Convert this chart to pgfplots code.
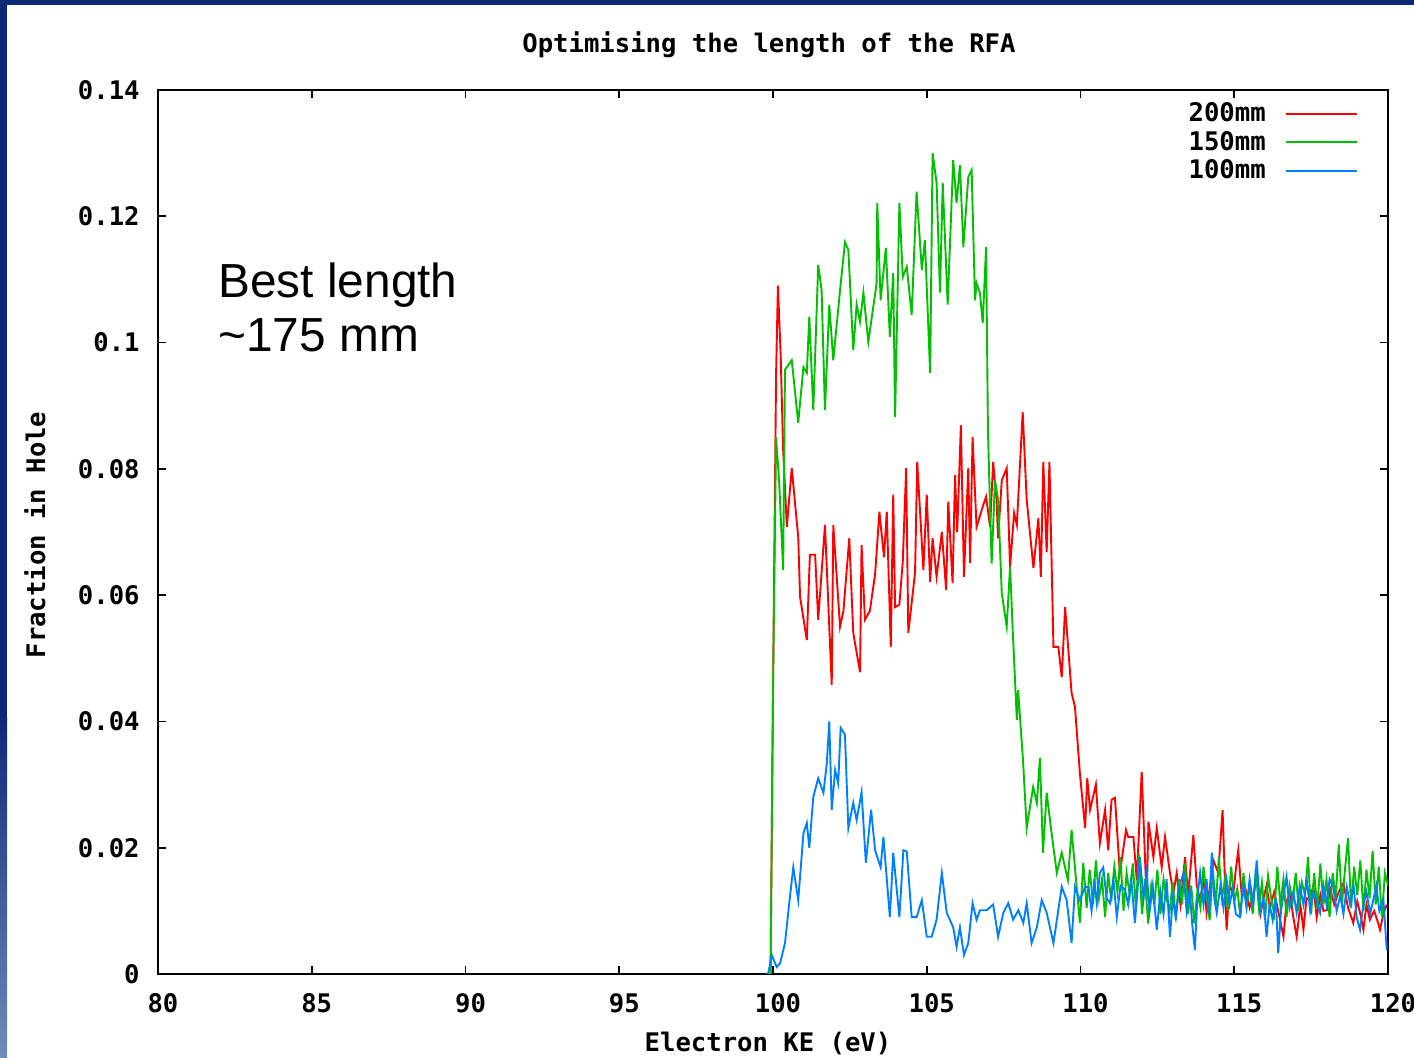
\documentclass[border=0pt]{standalone}
\usepackage{pgfplots}
\pgfplotsset{compat=1.18}
\usepackage{fontspec}
\newfontfamily\gpfont{DejaVu Sans Mono}
\newfontfamily\arialfont{Liberation Sans}
\definecolor{navy}{RGB}{14,40,120}
\definecolor{gpred}{RGB}{255,0,0}
\definecolor{gpgreen}{RGB}{0,192,0}
\definecolor{gpblue}{RGB}{0,128,255}
\newcommand{\gp}{\gpfont\bfseries\fontsize{12.8}{14}\selectfont}
\begin{document}
\begin{tikzpicture}[x=1pt,y=1pt]
\fill[white] (0,0) rectangle (707,529);
\fill[navy] (0,526.5) rectangle (707,529);
\fill[navy] (0,170) rectangle (3.5,529);
\shade[top color=navy, bottom color={rgb,255:red,110;green,140;blue,185}] (0,0) rectangle (3.5,170.2);
\begin{axis}[
  at={(79pt,42pt)}, anchor=south west, scale only axis,
  width=615pt, height=442pt,
  xmin=80, xmax=120, ymin=0, ymax=0.14,
  axis line style={line width=1pt},
  tick align=inside, major tick length=4pt,
  every tick/.style={black, line width=0.9pt},
  xtick={80,85,90,95,100,105,110,115,120},
  xticklabels={80,85,90,95,100,105,110,115,120},
  ytick={0,0.02,0.04,0.06,0.08,0.1,0.12,0.14},
  yticklabels={0,0.02,0.04,0.06,0.08,0.1,0.12,0.14},
  scaled y ticks=false, scaled x ticks=false,
  minor tick num=0,
  ticklabel style={font=\gp},
  xticklabel style={anchor=base, inner sep=0pt, yshift=-19.5pt, xshift=2.5pt},
  yticklabel style={anchor=east, inner sep=0pt, xshift=-9pt},
  legend plot pos=right, legend cell align=right,
  legend style={at={(0.9756,0.986)}, anchor=north east, draw=none, fill=none,
    inner sep=0pt, font=\gp, nodes={inner sep=0pt}, row sep=3.3pt,
    /tikz/every odd column/.append style={column sep=9.5pt}},
  legend image code/.code={\draw[#1] (0pt,0pt) -- (35.5pt,0pt);},
]
\addplot[gpred, line width=0.95pt] coordinates {
(99.80,0) (99.92,0) (100.02,0.055) (100.10,0.095) (100.16,0.109) (100.25,0.098) (100.33,0.083) (100.45,0.0708) (100.61,0.0801) (100.82,0.0692) (100.88,0.0597) (101.10,0.0529) (101.20,0.0664) (101.37,0.0664) (101.47,0.0561) (101.69,0.0711) (101.91,0.0458) (101.96,0.0711) (102.18,0.0550) (102.29,0.0575) (102.48,0.0690) (102.61,0.0540) (102.83,0.0478) (102.88,0.0679) (102.99,0.0561) (103.15,0.0575) (103.32,0.0633) (103.46,0.0732) (103.61,0.0660) (103.70,0.0732) (103.83,0.0518) (103.91,0.0759) (103.97,0.0581) (104.11,0.0585) (104.22,0.0653) (104.33,0.0801) (104.40,0.0540) (104.62,0.0636) (104.69,0.0811) (104.89,0.0640) (105.00,0.0759) (105.11,0.0621) (105.19,0.0690) (105.32,0.0629) (105.49,0.0700) (105.63,0.0608) (105.70,0.0748) (105.84,0.0619) (105.92,0.0790) (105.99,0.0700) (106.11,0.0869) (106.21,0.0629) (106.35,0.0801) (106.41,0.0651) (106.49,0.0850) (106.62,0.0708) (106.82,0.0740) (106.93,0.0756) (107.06,0.0708) (107.16,0.0811) (107.27,0.0751) (107.32,0.0690) (107.44,0.0782) (107.60,0.0801) (107.71,0.0645) (107.84,0.0730) (107.93,0.0711) (108.12,0.0890) (108.25,0.0751) (108.47,0.0643) (108.63,0.0722) (108.71,0.0629) (108.79,0.0811) (108.90,0.0668) (108.99,0.0811) (109.12,0.0518) (109.28,0.0518) (109.39,0.0470) (109.50,0.0581) (109.71,0.0445) (109.82,0.0423) (109.98,0.0318) (110.15,0.0231) (110.22,0.0310) (110.31,0.0260) (110.50,0.0300) (110.63,0.0207) (110.80,0.0260) (110.90,0.0196) (111.01,0.0276) (111.12,0.0279) (111.28,0.0160) (111.48,0.0228) (111.55,0.0217) (111.72,0.0217) (111.83,0.0149) (111.99,0.0320) (112.15,0.0117) (112.21,0.0241) (112.37,0.0185) (112.48,0.0231) (112.64,0.0169) (112.75,0.0217) (112.91,0.0160)
(113.02,0.0128) (113.13,0.0160) (113.25,0.0110) (113.40,0.0185) (113.50,0.0125) (113.67,0.0220) (113.78,0.0140) (113.89,0.0117) (114.00,0.0150) (114.10,0.0097) (114.20,0.0135) (114.32,0.0180) (114.48,0.0160) (114.62,0.0260) (114.75,0.0070) (114.85,0.0140) (114.97,0.0128) (115.05,0.0165) (115.13,0.0196) (115.25,0.0120) (115.35,0.0138) (115.50,0.0105) (115.62,0.0128) (115.75,0.0150) (115.85,0.0095) (115.94,0.0117) (116.05,0.0140) (116.16,0.0104) (116.30,0.0130) (116.45,0.0095) (116.60,0.0059) (116.70,0.0115) (116.81,0.0128) (116.92,0.0090) (117.03,0.0059) (117.15,0.0110) (117.25,0.0070) (117.35,0.0120) (117.46,0.0117) (117.57,0.0140) (117.68,0.0090) (117.80,0.0125) (117.90,0.0100) (118.01,0.0101) (118.12,0.0135) (118.25,0.0110) (118.40,0.0130) (118.55,0.0144) (118.70,0.0105) (118.87,0.0081) (119.00,0.0115) (119.10,0.0095) (119.20,0.0070) (119.30,0.0110) (119.41,0.0086) (119.55,0.0100) (119.65,0.0085) (119.74,0.0070) (119.85,0.0095) (119.96,0.0110)
};
\addlegendentry{200mm}
\addplot[gpgreen, line width=0.95pt] coordinates {
(99.80,0) (99.92,0) (100.00,0.045) (100.10,0.085) (100.20,0.078) (100.33,0.064) (100.39,0.0957) (100.61,0.0972) (100.82,0.0873) (100.99,0.0961) (101.10,0.0952) (101.18,0.1041) (101.31,0.0893) (101.47,0.1123) (101.58,0.1083) (101.69,0.0893) (101.83,0.1060) (101.96,0.0972) (102.18,0.1083) (102.34,0.1159) (102.45,0.1147) (102.61,0.0988) (102.72,0.1060) (102.83,0.1033) (102.94,0.1079) (103.10,0.1001) (103.37,0.1094) (103.39,0.1221) (103.50,0.1067) (103.67,0.1150) (103.80,0.1009) (103.91,0.1110) (103.97,0.0882) (104.11,0.1221) (104.22,0.1104) (104.35,0.1120) (104.51,0.1044) (104.67,0.1239) (104.84,0.1115) (104.94,0.1162) (105.11,0.0952) (105.19,0.1300) (105.32,0.1253) (105.43,0.1079) (105.52,0.1253) (105.68,0.1060) (105.86,0.1289) (105.97,0.1221) (106.08,0.1281) (106.19,0.1151) (106.35,0.1262) (106.46,0.1273) (106.57,0.1067) (106.62,0.1094) (106.73,0.1079) (106.82,0.1031) (106.93,0.1151) (106.99,0.0860) (107.11,0.0650) (107.22,0.0782) (107.32,0.0751) (107.44,0.0603) (107.60,0.0550) (107.71,0.0645) (107.80,0.0540) (107.93,0.0402) (107.97,0.0450) (108.13,0.0339) (108.25,0.0231) (108.46,0.0296) (108.58,0.0271) (108.68,0.0342) (108.78,0.0192) (108.90,0.0287) (109.06,0.0223) (109.23,0.0160) (109.39,0.0192) (109.59,0.0149) (109.71,0.0228) (109.98,0.0081)
(110.09,0.0176) (110.20,0.0105) (110.30,0.0165) (110.41,0.0110) (110.50,0.0180) (110.60,0.0120) (110.70,0.0150) (110.80,0.0090) (110.90,0.0160) (111.00,0.0115) (111.10,0.0170) (111.20,0.0130) (111.30,0.0185) (111.40,0.0100) (111.50,0.0160) (111.60,0.0125) (111.70,0.0175) (111.80,0.0105) (111.90,0.0190) (112.00,0.0095) (112.10,0.0150) (112.20,0.0080) (112.30,0.0140) (112.40,0.0110) (112.50,0.0165) (112.60,0.0095) (112.70,0.0150) (112.80,0.0120) (112.90,0.0100) (113.00,0.0145) (113.10,0.0085) (113.20,0.0150) (113.30,0.0110) (113.40,0.0175) (113.50,0.0095) (113.60,0.0140) (113.70,0.0080) (113.80,0.0130) (113.90,0.0105) (114.00,0.0170) (114.10,0.0125) (114.20,0.0085) (114.30,0.0165) (114.40,0.0110) (114.50,0.0185) (114.60,0.0120) (114.70,0.0150) (114.80,0.0100) (114.90,0.0170) (115.00,0.0115) (115.10,0.0135) (115.20,0.0090) (115.30,0.0160) (115.40,0.0110) (115.50,0.0140) (115.60,0.0095) (115.70,0.0165) (115.80,0.0105) (115.90,0.0145) (116.00,0.0085) (116.10,0.0155) (116.20,0.0120) (116.30,0.0095) (116.40,0.0170) (116.50,0.0110) (116.60,0.0150) (116.70,0.0090) (116.80,0.0140) (116.90,0.0115) (117.00,0.0160) (117.10,0.0100) (117.20,0.0145) (117.30,0.0125) (117.40,0.0185) (117.50,0.0095) (117.60,0.0160) (117.70,0.0105) (117.80,0.0175) (117.90,0.0110) (118.00,0.0150) (118.10,0.0090) (118.20,0.0160) (118.30,0.0120) (118.40,0.0205) (118.50,0.0110) (118.60,0.0165) (118.70,0.0215) (118.80,0.0105) (118.90,0.0170) (119.00,0.0125) (119.10,0.0180) (119.20,0.0100) (119.30,0.0165) (119.40,0.0120) (119.50,0.0195) (119.60,0.0110) (119.70,0.0170) (119.80,0.0090) (119.90,0.0160) (120.00,0.0140)
};
\addlegendentry{150mm}
\addplot[gpblue, line width=0.95pt] coordinates {
(99.80,0) (99.85,0.0002) (99.96,0.0030) (100.12,0.0011) (100.23,0.0017) (100.39,0.0049) (100.55,0.0122) (100.66,0.0169) (100.82,0.0117) (100.99,0.0223) (101.10,0.0239) (101.18,0.0200) (101.31,0.0280) (101.47,0.0310) (101.64,0.0287) (101.75,0.0334) (101.83,0.0400) (101.91,0.0260) (102.02,0.0323) (102.12,0.0302) (102.20,0.0390) (102.34,0.0379) (102.45,0.0231) (102.61,0.0271) (102.72,0.0244) (102.88,0.0288) (103.02,0.0176) (103.19,0.0260) (103.32,0.0196) (103.50,0.0169) (103.59,0.0217) (103.80,0.0090) (103.91,0.0192) (104.11,0.0090) (104.24,0.0196) (104.35,0.0194) (104.51,0.0090) (104.67,0.0090) (104.84,0.0117) (105.00,0.0059) (105.16,0.0059) (105.32,0.0086) (105.49,0.0160) (105.65,0.0097) (105.86,0.0074) (105.97,0.0043) (106.08,0.0074) (106.21,0.0030) (106.35,0.0049) (106.49,0.0112) (106.62,0.0086) (106.73,0.0101) (106.95,0.0101) (107.16,0.0110) (107.32,0.0059) (107.49,0.0097) (107.65,0.0112) (107.81,0.0086) (107.98,0.0101) (108.14,0.0081) (108.25,0.0112) (108.41,0.0049) (108.58,0.0074) (108.74,0.0117) (108.90,0.0097) (109.12,0.0049) (109.39,0.0138) (109.55,0.0117) (109.71,0.0049) (109.82,0.0138) (109.98,0.0117)
(110.15,0.0138) (110.26,0.0138) (110.36,0.0100) (110.45,0.0150) (110.53,0.0112) (110.63,0.0160) (110.74,0.0169) (110.85,0.0120) (110.96,0.0112) (111.07,0.0150) (111.18,0.0090) (111.30,0.0140) (111.45,0.0133) (111.55,0.0110) (111.65,0.0150) (111.77,0.0081) (111.85,0.0130) (111.93,0.0185) (112.05,0.0120) (112.15,0.0160) (112.25,0.0100) (112.35,0.0140) (112.48,0.0070) (112.60,0.0130) (112.70,0.0095) (112.80,0.0150) (112.91,0.0059) (113.00,0.0120) (113.10,0.0090) (113.22,0.0140) (113.35,0.0160) (113.45,0.0100) (113.55,0.0135) (113.63,0.0080) (113.72,0.0038) (113.80,0.0120) (113.89,0.0160) (114.00,0.0110) (114.10,0.0150) (114.18,0.0095) (114.27,0.0192) (114.35,0.0120) (114.43,0.0097) (114.55,0.0140) (114.65,0.0105) (114.75,0.0149) (114.85,0.0110) (114.95,0.0135) (115.05,0.0095) (115.18,0.0090) (115.30,0.0140) (115.40,0.0105) (115.50,0.0150) (115.62,0.0110) (115.73,0.0180) (115.85,0.0100) (115.95,0.0120) (116.05,0.0059) (116.15,0.0110) (116.25,0.0085) (116.35,0.0120) (116.43,0.0033) (116.52,0.0100) (116.60,0.0125) (116.70,0.0154) (116.80,0.0105) (116.92,0.0130) (117.03,0.0097) (117.13,0.0140) (117.25,0.0110) (117.36,0.0149) (117.47,0.0100) (117.58,0.0130) (117.68,0.0115) (117.79,0.0097) (117.90,0.0140) (118.00,0.0110) (118.10,0.0150) (118.22,0.0138) (118.33,0.0100) (118.45,0.0125) (118.55,0.0095) (118.66,0.0138) (118.77,0.0110) (118.88,0.0140) (118.98,0.0090) (119.09,0.0070) (119.20,0.0110) (119.30,0.0130) (119.42,0.0095) (119.52,0.0117) (119.62,0.0140) (119.72,0.0100) (119.85,0.0117) (119.96,0.0038)
};
\addlegendentry{100mm}
\end{axis}
\node[font=\gp, anchor=base] at (384.5,502.5) {Optimising the length of the RFA};
\node[font=\gp, anchor=base] at (384,3) {Electron KE (eV)};
\node[font=\gp, anchor=base, rotate=90] at (22.5,261.5) {Fraction in Hole};
\node[font=\arialfont\fontsize{23.9}{27}\selectfont, anchor=base west, inner sep=0pt] at (109,380) {Best length};
\node[font=\arialfont\fontsize{23.9}{27}\selectfont, anchor=base west, inner sep=0pt] at (109,353) {\textasciitilde175 mm};
\pgfresetboundingbox
\useasboundingbox (0,0) rectangle (707,529);
\end{tikzpicture}
\end{document}
